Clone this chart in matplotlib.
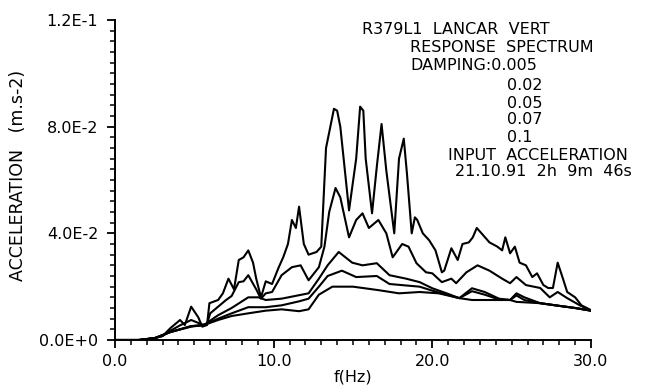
import numpy as np
import matplotlib
matplotlib.use("Agg")
import matplotlib.pyplot as plt
from matplotlib.ticker import MultipleLocator

# ---- data ----
f_d005 = [0, 1.5, 2.5, 3.0, 3.5, 4.1, 4.4, 4.8, 5.25, 5.5, 5.8, 5.95, 6.5, 6.8, 7.15, 7.5,
          7.8, 8.1, 8.4, 8.7, 8.9, 9.2, 9.5, 9.9, 10.3, 10.6, 10.9, 11.15, 11.4, 11.6, 11.9,
          12.2, 12.7, 13.0, 13.3, 13.8, 14.0, 14.2, 14.75, 15.2, 15.45, 15.65, 15.8, 16.2, 16.5,
          16.8, 17.1, 17.6, 17.9, 18.2, 18.4, 18.7, 18.9, 19.05, 19.4, 19.8, 20.2, 20.6,
          20.75, 21.2, 21.6, 21.9, 22.3, 22.55, 22.8, 23.1, 23.6, 24.1, 24.4, 24.6, 24.9,
          25.2, 25.5, 25.9, 26.3, 26.6, 27.0, 27.3, 27.6, 27.9, 28.2, 28.5, 29.0, 29.4, 30.0]
a_d005 = [0, 0, 0.0007, 0.0015, 0.0045, 0.0075, 0.0056, 0.0125, 0.0085, 0.005, 0.0056, 0.0138,
          0.015, 0.0175, 0.023, 0.019, 0.030, 0.031, 0.0336, 0.029, 0.023, 0.016, 0.022,
          0.021, 0.027, 0.031, 0.036, 0.045, 0.042, 0.050, 0.036, 0.032, 0.033, 0.035, 0.072,
          0.0867, 0.086, 0.080, 0.0486, 0.068, 0.0875, 0.086, 0.068, 0.0475, 0.065, 0.081, 0.0635,
          0.040, 0.068, 0.0755, 0.0624, 0.040, 0.046, 0.045, 0.040, 0.0374, 0.0336, 0.0254,
          0.026, 0.0344, 0.030, 0.036, 0.0366, 0.0385, 0.042, 0.040, 0.0366, 0.035, 0.0336,
          0.0385, 0.0325, 0.035, 0.029, 0.028, 0.0236, 0.025, 0.0206, 0.0195, 0.0195, 0.029,
          0.0236, 0.018, 0.016, 0.013, 0.0112]

f_d02 = [0, 1.5, 2.5, 3.0, 3.5, 4.1, 4.8, 5.5, 5.8, 6.0, 6.5, 7.0, 7.35, 7.8, 8.1, 8.4, 8.9,
         9.2, 9.5, 9.9, 10.5, 11.15, 11.7, 12.2, 12.85, 13.2, 13.5, 13.9, 14.2, 14.75, 15.2,
         15.6, 16.0, 16.6, 17.1, 17.5, 18.1, 18.5, 19.0, 19.6, 20.0, 20.6, 21.2, 21.5, 22.15,
         22.85, 23.6, 24.4, 24.9, 25.3, 25.9, 26.8, 27.4, 27.9, 28.5, 29.3, 30.0]
a_d02 = [0, 0, 0.0007, 0.0015, 0.0035, 0.0055, 0.0075, 0.0058, 0.006, 0.010, 0.0125, 0.015,
         0.0165, 0.0217, 0.022, 0.0243, 0.019, 0.0155, 0.0175, 0.018, 0.0243, 0.0273, 0.028,
         0.0224, 0.0273, 0.035, 0.048, 0.057, 0.0535, 0.0385, 0.045, 0.0475, 0.042, 0.045,
         0.040, 0.031, 0.036, 0.035, 0.0288, 0.0254, 0.025, 0.0217, 0.023, 0.0213, 0.0254,
         0.028, 0.026, 0.023, 0.0213, 0.0236, 0.0206, 0.0195, 0.016, 0.018, 0.0157, 0.013,
         0.011]

f_d05 = [0, 1.5, 2.5, 3.5, 4.8, 5.6, 6.5, 7.35, 8.4, 9.05, 9.5, 10.5, 11.6, 12.2, 12.85,
         13.4, 14.1, 14.95, 15.6, 16.5, 17.3, 18.35, 19.2, 20.0, 20.9, 21.7, 22.5, 23.3,
         24.2, 24.9, 25.3, 25.8, 26.8, 28.0, 29.0, 30.0]
a_d05 = [0, 0, 0.0007, 0.003, 0.0052, 0.0056, 0.0093, 0.012, 0.016, 0.016, 0.015, 0.0155,
         0.0168, 0.0175, 0.023, 0.028, 0.033, 0.029, 0.028, 0.0288, 0.0243, 0.023, 0.0217,
         0.0194, 0.0175, 0.0157, 0.0194, 0.018, 0.0155, 0.015, 0.0175, 0.016, 0.0138,
         0.0128, 0.012, 0.011]

f_d07 = [0, 1.5, 2.5, 3.5, 4.8, 5.6, 6.5, 7.35, 8.4, 9.5, 10.5, 11.6, 12.2, 12.85, 13.4,
         14.3, 15.2, 16.5, 17.3, 19.2, 20.0, 20.9, 21.7, 22.5, 23.3, 24.2, 24.9, 25.3, 25.8,
         26.8, 28.0, 29.0, 30.0]
a_d07 = [0, 0, 0.0007, 0.003, 0.0052, 0.0056, 0.008, 0.010, 0.0123, 0.0123, 0.013, 0.0145,
         0.0155, 0.020, 0.024, 0.026, 0.0236, 0.024, 0.021, 0.020, 0.0185, 0.017, 0.0157,
         0.0183, 0.017, 0.0152, 0.015, 0.0167, 0.015, 0.0138, 0.0128, 0.012, 0.011]

f_d1 = [0, 1.5, 2.5, 3.5, 4.8, 5.6, 6.5, 7.35, 8.4, 9.5, 10.5, 11.6, 12.2, 12.85, 13.7,
        15.0, 16.6, 17.9, 19.2, 20.4, 21.7, 22.5, 23.5, 24.9, 25.3, 26.8, 28.0, 29.0, 30.0]
a_d1 = [0, 0, 0.0007, 0.003, 0.005, 0.0056, 0.0075, 0.009, 0.010, 0.011, 0.0115, 0.0108,
        0.0115, 0.017, 0.020, 0.020, 0.0187, 0.0175, 0.018, 0.0175, 0.0157, 0.015, 0.015,
        0.015, 0.0143, 0.0138, 0.0128, 0.012, 0.011]

x_ticks = [0.0, 10.0, 20.0, 30.0]
x_ticklabels = ["0.0", "10.0", "20.0", "30.0"]
y_ticks = [0.0, 0.04, 0.08, 0.12]
y_ticklabels = ["0.0E+0", "4.0E-2", "8.0E-2", "1.2E-1"]

header_lines = ["R379L1  LANCAR  VERT", "RESPONSE  SPECTRUM", "DAMPING:0.005"]
damping_more = ["0.02", "0.05", "0.07", "0.1"]
footer_lines = ["INPUT  ACCELERATION", "21.10.91  2h  9m  46s"]

# ---- figure ----
W, H = 659, 388
fig = plt.figure(figsize=(W / 100, H / 100), dpi=100)
ax = fig.add_axes([115 / W, 1 - 340 / H, (591 - 115) / W, (340 - 20) / H])

for fx, ay in [(f_d005, a_d005), (f_d02, a_d02), (f_d05, a_d05), (f_d07, a_d07), (f_d1, a_d1)]:
    ax.plot(fx, ay, color="black", lw=1.5, solid_joinstyle="round")

ax.set_xlim(0, 30)
ax.set_ylim(0, 0.12)
for s in ("top", "right"):
    ax.spines[s].set_visible(False)
for s in ("left", "bottom"):
    ax.spines[s].set_linewidth(1.4)

ax.set_xticks(x_ticks)
ax.set_xticklabels(x_ticklabels)
ax.set_yticks(y_ticks)
ax.set_yticklabels(y_ticklabels)
ax.xaxis.set_minor_locator(MultipleLocator(1.0))
ax.yaxis.set_minor_locator(MultipleLocator(0.004))
ax.tick_params(which="major", direction="out", length=6, width=1.3, labelsize=11.5, pad=4)
ax.tick_params(which="minor", direction="out", length=3.5, width=1.1)
ax.tick_params(axis="y", which="major", pad=6)

ax.set_xlabel("f(Hz)", fontsize=11.5)
ax.xaxis.set_label_coords(0.5, -(370 - 340) / 320)
ax.xaxis.label.set_va("top")
ax.set_ylabel("ACCELERATION   (m.s-2)", fontsize=12.5)
ax.yaxis.set_label_coords(-88 / (591 - 115), (340 - 175) / 320)

def ftext(px, py, s, ha="left"):
    fig.text(px / W, 1 - py / H, s, ha=ha, va="center", fontsize=11.5)

ftext(362, 30, header_lines[0])
ftext(410, 48, header_lines[1])
ftext(410, 66, header_lines[2])
for i, s in enumerate(damping_more):
    ftext(507, 86 + i * 17, s)
ftext(448, 155, footer_lines[0])
ftext(455, 172, footer_lines[1])

fig.savefig("out.png", dpi=100)
